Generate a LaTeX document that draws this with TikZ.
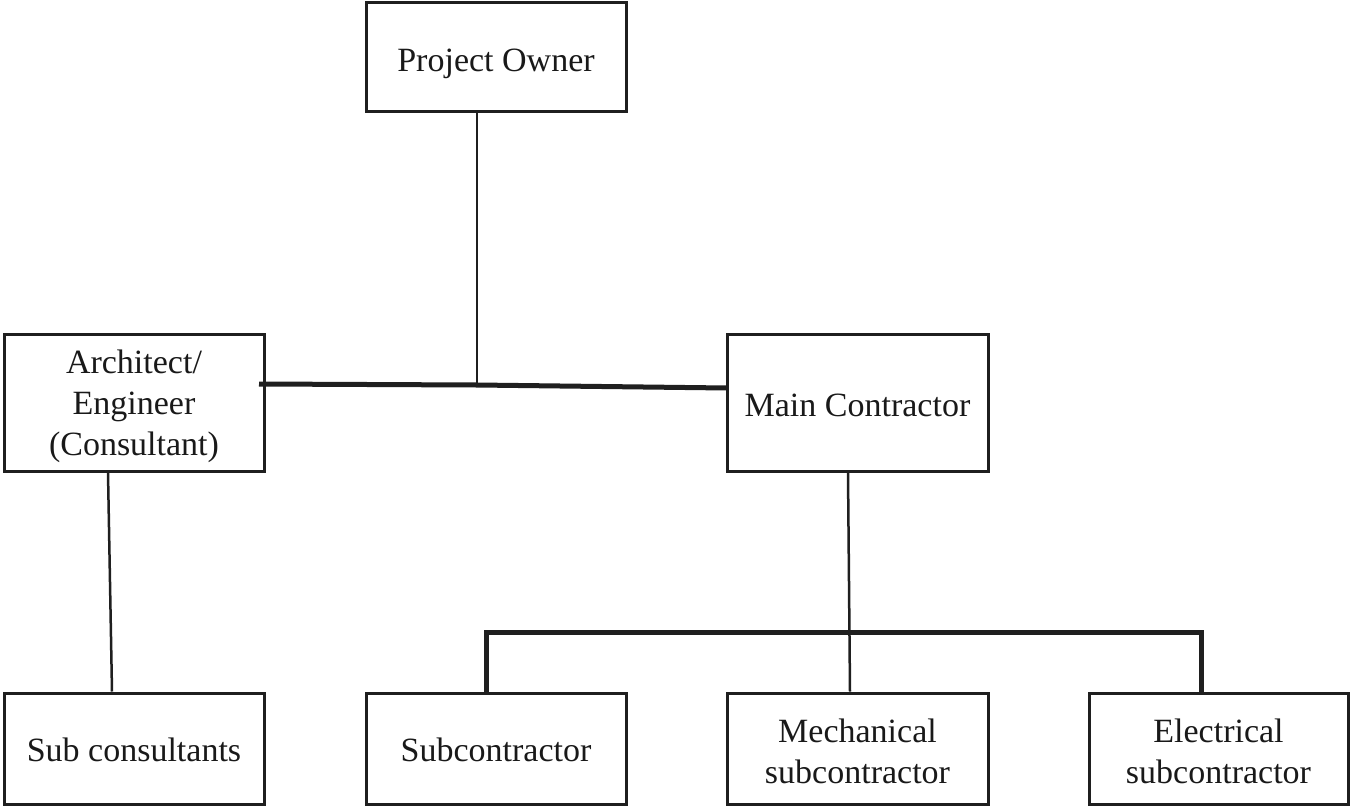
\documentclass[tikz,border=0pt]{standalone}
\usepackage{fontspec}
\setmainfont{Liberation Serif}
\begin{document}
\begin{tikzpicture}[x=1pt,y=-1pt,
  box/.style={draw=black!88, line width=3pt, minimum width=260pt, inner sep=0pt},
  txt/.style={align=center, inner sep=0pt, font=\fontsize{34}{41}\selectfont, text=black!90},
  conn/.style={draw=black!88, line width=2.5pt},
  bus/.style={draw=black!88, line width=5pt}]
\useasboundingbox (0,0) rectangle (1350,806);
\node[box, minimum height=109pt, label={[txt, yshift=-7pt]center:Project Owner}] (PO) at (496,56.5) {};
\node[box, minimum height=137pt, label={[txt, yshift=-4pt]center:Architect/\\Engineer\\(Consultant)}] (AE) at (134,402.5) {};
\node[box, minimum height=137pt, minimum width=261pt, label={[txt, yshift=-3pt]center:Main Contractor}] (MC) at (857.5,402.5) {};
\node[box, minimum height=111pt, label={[txt, yshift=-1pt]center:Sub consultants}] (SC) at (134,748.5) {};
\node[box, minimum height=111pt, label={[txt, yshift=-1pt]center:Subcontractor}] (SB) at (496,748.5) {};
\node[box, minimum height=111pt, minimum width=261pt, label={[txt, yshift=-3pt]center:Mechanical\\subcontractor}] (ME) at (857.5,748.5) {};
\node[box, minimum height=111pt, minimum width=259pt, label={[txt, yshift=-3pt]center:Electrical\\subcontractor}] (EL) at (1218.5,748.5) {};
\coordinate (J1) at (477,385);
\coordinate (JL) at (259,384);
\coordinate (JR) at (727,388);
\coordinate (B1) at (486,632);
\coordinate (B2) at (1201,632);
\draw[conn] ([xshift=-19pt]PO.south) -- (J1);
\draw[bus] (JL) -- (J1) -- (JR);
\draw[conn] ([xshift=-26pt]AE.south) -- ([xshift=-22pt]SC.north);
\draw[conn] ([xshift=-9.5pt]MC.south) -- ([xshift=-7.5pt]ME.north);
\draw[bus] ([xshift=-10pt]SB.north) -- (B1) -- (B2) -- ([xshift=-17.5pt]EL.north);
\end{tikzpicture}
\end{document}
